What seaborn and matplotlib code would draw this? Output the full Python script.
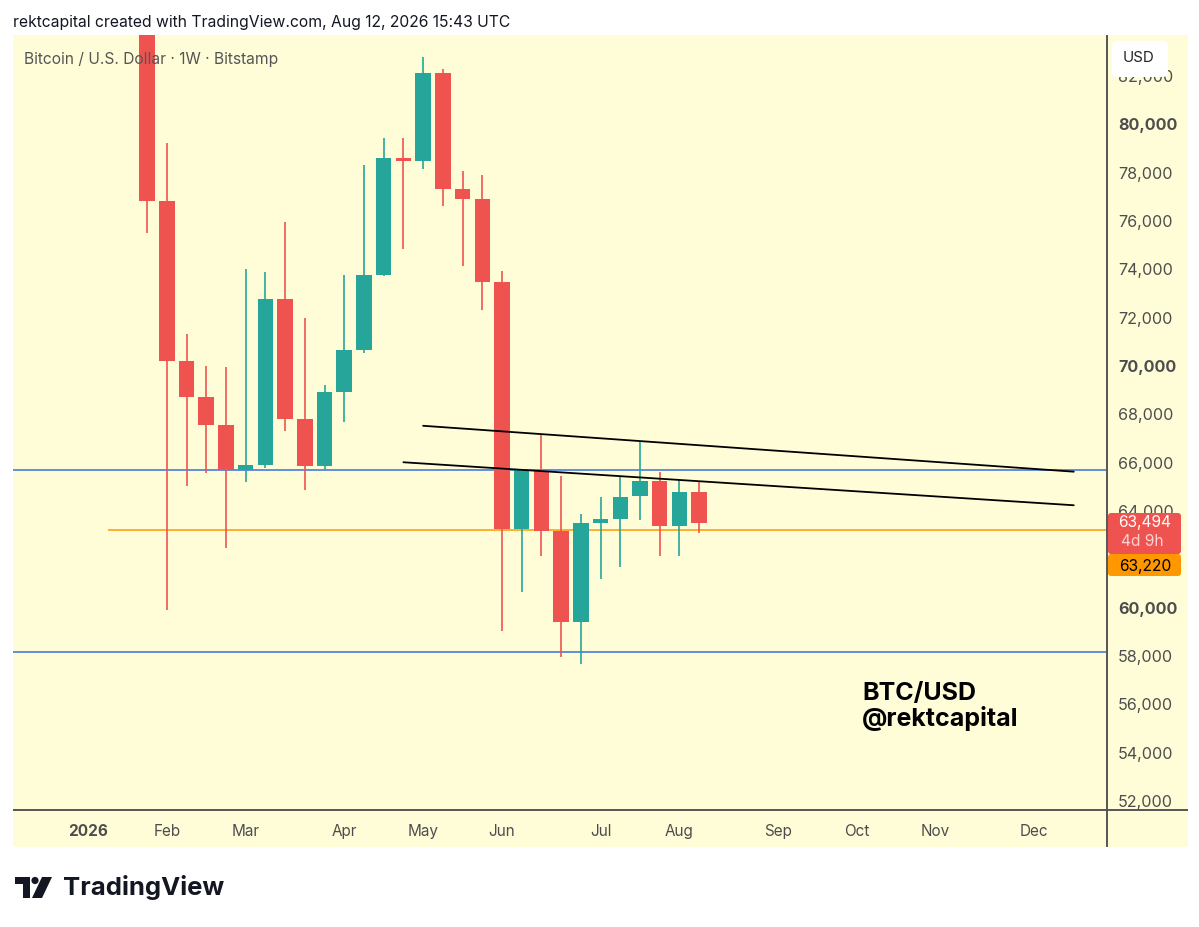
import numpy as np
import pandas as pd
import seaborn as sns
import matplotlib.pyplot as plt
import matplotlib.dates as mdates
from matplotlib.patches import FancyBboxPatch, Rectangle, Polygon, Circle

W, H = 1199, 927
YELLOW = '#FFFDD8'
RED = '#EF5350'
TEAL = '#26A69A'
BLUE = '#3B6FDB'
ORANGE = '#FF9800'
GREY = '#4d4d4d'

# weekly BTC/USD candles (Bitstamp), first visible week
first_week = '2026-01-26'
opens = [85500, 76840, 70220, 68740, 67560, 65680, 65910, 72760, 67800, 65880,
         68920, 70670, 73750, 78620, 78500, 82140, 77350, 76910, 73500, 63260,
         65650, 63160, 59400, 63490, 63670, 64610, 65260, 63400, 64790]
highs = [86800, 79250, 71330, 70000, 69960, 74020, 73880, 75970, 71990, 69200,
         73780, 78330, 79450, 79450, 82790, 82310, 78070, 77930, 73930, 65720,
         67200, 65470, 63880, 64600, 65440, 66850, 65610, 65290, 65260]
lows = [75500, 59890, 65040, 65560, 62490, 65200, 65800, 67300, 64880, 65700,
        67680, 70530, 73710, 74850, 78170, 76620, 74130, 72340, 59050, 60640,
        62130, 57980, 57670, 61190, 61700, 63610, 62160, 62160, 63100]
closes = [76840, 70220, 68740, 67560, 65680, 65910, 72760, 67800, 65880, 68920,
          70670, 73780, 78620, 78500, 82140, 77350, 76910, 73500, 63260, 65680,
          63160, 59400, 63490, 63670, 64600, 65260, 63400, 64790, 63494]

month_ticks = ['2026-01-05', '2026-02-02', '2026-03-02', '2026-04-06', '2026-05-04', '2026-06-01',
               '2026-07-06', '2026-08-03', '2026-09-07', '2026-10-05', '2026-11-02', '2026-12-07']
month_labels = ['2026', 'Feb', 'Mar', 'Apr', 'May', 'Jun', 'Jul', 'Aug', 'Sep', 'Oct', 'Nov', 'Dec']
price_ticks = list(range(52000, 84000, 2000))
bold_prices = [60000, 70000, 80000]
hidden_prices = [62000]  # sits fully behind the price badges

blue_levels = [65680, 58180]
orange_level = 63220
orange_start = '2026-01-12'
trend_dates = ['2026-05-04', '2026-12-21', '2026-04-27', '2026-12-21']
trend_prices = [67530, 65630, 66020, 64240]
trend_names = ['upper', 'upper', 'lower', 'lower']
last_price = 63494
countdown = '4d 9h'

sns.set_theme(style='white')
plt.rcParams['font.family'] = ['Inter', 'DejaVu Sans']

df = pd.DataFrame({'date': pd.date_range(first_week, periods=len(opens), freq='W-MON'),
                   'open': opens, 'high': highs, 'low': lows, 'close': closes})
df['x'] = mdates.date2num(df['date'])
df['up'] = df['close'] >= df['open']
colors = np.where(df['up'], TEAL, RED)

trend = pd.DataFrame({'x': mdates.date2num(pd.to_datetime(trend_dates)),
                      'price': trend_prices, 'line': trend_names})

fig = plt.figure(figsize=(W / 100, H / 100), dpi=100)
fig.patch.set_facecolor('white')


def fbox(x0, y0, x1, y1):
    return [x0 / W, 1 - y1 / H, (x1 - x0) / W, (y1 - y0) / H]


# background layer in pixel coordinates
bg = fig.add_axes([0, 0, 1, 1], zorder=0)
bg.set_xlim(0, W)
bg.set_ylim(H, 0)
bg.axis('off')
bg.add_patch(Rectangle((13, 35), 1175, 812, color=YELLOW, lw=0))

ax = fig.add_axes(fbox(13, 35, 1107, 810), zorder=1)
ax.set_facecolor('none')

ax.vlines(df['x'], df['low'], df['high'], colors=colors, lw=1.2, zorder=3)
ax.bar(df['x'], (df['close'] - df['open']).abs(), bottom=df[['open', 'close']].min(axis=1),
       width=5.5, color=colors, linewidth=0, zorder=4)

x0 = mdates.date2num(pd.Timestamp('2026-01-05')) - 26.6
x1 = mdates.date2num(pd.Timestamp('2026-01-05')) + 361.8
for lvl in blue_levels:
    ax.axhline(lvl, color=BLUE, lw=1.1, zorder=2)
ax.hlines(orange_level, mdates.date2num(pd.Timestamp(orange_start)), x1, color=ORANGE, lw=1.1, zorder=2)

sns.lineplot(data=trend, x='x', y='price', units='line', estimator=None, color='black',
             lw=1.3, ax=ax, zorder=5, legend=False)

ax.set_xlim(x0, x1)
ax.set_ylim(51627, 83704)
ax.set_xlabel('')
ax.set_ylabel('')
for s in ax.spines.values():
    s.set_visible(False)

ax.set_xticks(mdates.date2num(pd.to_datetime(month_ticks)))
ax.set_xticklabels(month_labels)
ax.tick_params(axis='x', length=0, pad=10, labelsize=11, labelcolor=GREY)
ax.get_xticklabels()[0].set_fontweight('bold')

ax.yaxis.tick_right()
ax.set_yticks(price_ticks)
ax.set_yticklabels(['' if p in hidden_prices else f'{p:,}' for p in price_ticks])
ax.tick_params(axis='y', length=0, pad=8, labelsize=11.6, labelcolor=GREY)
for lab, p in zip(ax.get_yticklabels(), price_ticks):
    if p in bold_prices:
        lab.set_fontweight('bold')

ax.text(0.0101, 0.968, 'Bitcoin / U.S. Dollar · 1W · Bitstamp', transform=ax.transAxes,
        fontsize=11.2, color='#555555', va='center', ha='left', zorder=6)
ax.text(0.776, 0.134, 'BTC/USD\n@rektcapital', transform=ax.transAxes, fontsize=18,
        fontweight='bold', color='black', va='center', ha='left', linespacing=1.05, zorder=6)

# overlay layer: separators, price badges, header, logo
ov = fig.add_axes([0, 0, 1, 1], zorder=2)
ov.set_xlim(0, W)
ov.set_ylim(H, 0)
ov.axis('off')
ov.plot([1107, 1107], [35, 847], color='#555555', lw=1.4, solid_capstyle='butt')
ov.plot([13, 1188], [810, 810], color='#555555', lw=1.4, solid_capstyle='butt')

ov.add_patch(FancyBboxPatch((1112, 41), 56, 36, boxstyle='round,pad=0,rounding_size=5',
                            fc='white', ec='none', zorder=5))
ov.text(1139, 58, 'USD', fontsize=10.8, color='#222222', ha='center', va='center', zorder=6)

ov.add_patch(FancyBboxPatch((1108, 513), 73, 41, boxstyle='round,pad=0,rounding_size=3',
                            fc=RED, ec='none', zorder=5))
ov.text(1145, 523, f'{last_price:,}', fontsize=11.2, color='white', ha='center', va='center', zorder=6)
ov.text(1142, 542, countdown, fontsize=11.2, color='#FAD4D3', ha='center', va='center', zorder=6)
ov.add_patch(FancyBboxPatch((1108, 554), 73, 22, boxstyle='round,pad=0,rounding_size=3',
                            fc=ORANGE, ec='none', zorder=5))
ov.text(1145, 566, f'{orange_level:,}', fontsize=11.2, color='black', ha='center', va='center', zorder=6)

ov.text(13, 22, 'rektcapital created with TradingView.com, Aug 12, 2026 15:43 UTC',
        fontsize=11.3, color='#131722', ha='left', va='center')

# TradingView logo
ov.add_patch(Rectangle((15, 877), 15, 7, color='#131722', lw=0))
ov.add_patch(Rectangle((23, 877), 7, 21, color='#131722', lw=0))
ov.add_patch(Circle((35, 880.5), 3.6, color='#131722', lw=0))
ov.add_patch(Polygon([(42, 877), (52, 877), (42, 898), (32, 898)], closed=True, color='#131722', lw=0))
ov.text(63, 887.5, 'TradingView', fontsize=18.5, fontweight='bold', color='#131722',
        ha='left', va='center')

fig.savefig('out.png', dpi=100, facecolor='white')
